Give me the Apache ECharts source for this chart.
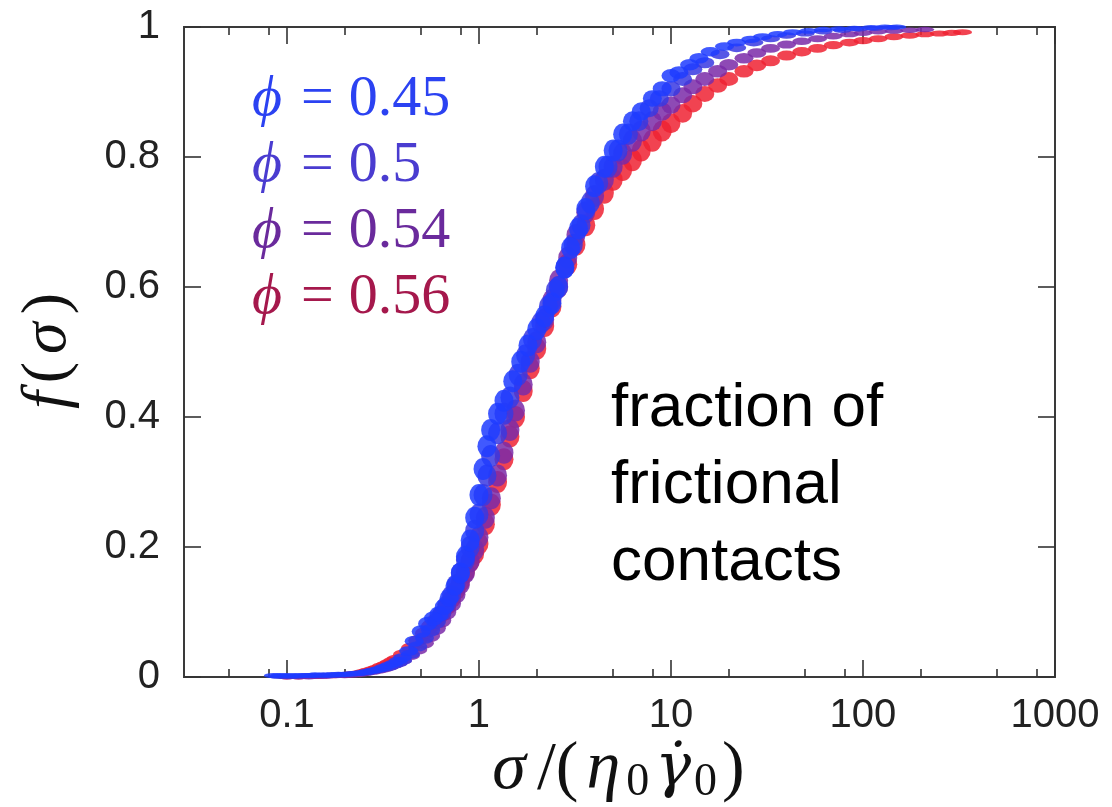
<!DOCTYPE html>
<html><head><meta charset="utf-8">
<script src="https://cdn.jsdelivr.net/npm/echarts@6/dist/echarts.min.js"></script>
<style>html,body{margin:0;padding:0;background:#fff}#c{width:1112px;height:807px}</style>
</head><body><div id="c"></div>
<script>
// ---- data ----
const seriesNames = ['0.45', '0.5', '0.54', '0.56'];
const phi045 = [[0.085,0.002],[0.092,0.002],[0.1,0.002],[0.11,0.002],[0.12,0.002],[0.13,0.002],[0.14,0.003],[0.155,0.003],[0.17,0.003],[0.185,0.004],[0.2,0.004],[0.22,0.005],[0.24,0.006],[0.26,0.008],[0.28,0.01],[0.3,0.012],[0.32,0.015],[0.34,0.018],[0.36,0.021],[0.38,0.025],[0.4,0.03],[0.43,0.04],[0.46,0.055],[0.5,0.07],[0.54,0.082],[0.58,0.09],[0.62,0.097],[0.66,0.108],[0.7,0.122],[0.75,0.14],[0.8,0.16],[0.85,0.185],[0.9,0.21],[0.95,0.245],[1.0,0.28],[1.05,0.32],[1.1,0.355],[1.15,0.38],[1.25,0.405],[1.35,0.425],[1.5,0.455],[1.65,0.485],[1.8,0.51],[2.0,0.535],[2.2,0.555],[2.4,0.575],[2.6,0.6],[2.8,0.63],[3.0,0.66],[3.3,0.69],[3.6,0.72],[4.0,0.755],[4.5,0.785],[5.0,0.81],[5.6,0.835],[6.3,0.855],[7.0,0.87],[8.0,0.89],[9.0,0.905],[10,0.925],[11,0.93],[12.5,0.942],[14,0.952],[16,0.962],[19,0.97],[22,0.976],[26,0.981],[30,0.985],[36,0.989],[43,0.992],[52,0.994],[62,0.996],[75,0.997],[90,0.998],[110,0.999],[130,1.0],[150,1.0]];
const phi050 = [[0.09,0.001],[0.1,0.001],[0.11,0.001],[0.125,0.002],[0.14,0.002],[0.155,0.002],[0.17,0.003],[0.185,0.003],[0.2,0.004],[0.22,0.005],[0.24,0.006],[0.26,0.007],[0.28,0.009],[0.3,0.011],[0.32,0.013],[0.34,0.015],[0.36,0.018],[0.38,0.021],[0.4,0.025],[0.44,0.035],[0.48,0.047],[0.52,0.06],[0.56,0.072],[0.6,0.085],[0.64,0.098],[0.68,0.112],[0.72,0.127],[0.76,0.143],[0.8,0.16],[0.85,0.18],[0.9,0.2],[0.95,0.225],[1.0,0.25],[1.05,0.28],[1.1,0.31],[1.15,0.34],[1.25,0.375],[1.35,0.405],[1.45,0.43],[1.6,0.465],[1.75,0.495],[1.9,0.52],[2.1,0.545],[2.3,0.57],[2.5,0.595],[2.8,0.63],[3.1,0.665],[3.4,0.695],[3.8,0.73],[4.2,0.76],[4.7,0.785],[5.3,0.81],[6.0,0.835],[6.8,0.855],[7.7,0.875],[8.7,0.89],[10,0.905],[11.5,0.92],[13,0.935],[15,0.945],[18,0.958],[22,0.968],[27,0.976],[33,0.982],[40,0.987],[50,0.99],[62,0.993],[78,0.995],[95,0.997],[115,0.998],[140,0.999]];
const phi054 = [[0.1,0.0],[0.115,0.0],[0.13,0.0],[0.145,0.001],[0.16,0.001],[0.18,0.002],[0.2,0.002],[0.22,0.003],[0.24,0.004],[0.26,0.006],[0.28,0.008],[0.3,0.01],[0.32,0.012],[0.34,0.015],[0.36,0.018],[0.38,0.021],[0.4,0.025],[0.44,0.033],[0.48,0.042],[0.52,0.052],[0.56,0.063],[0.6,0.075],[0.64,0.087],[0.68,0.1],[0.72,0.113],[0.76,0.127],[0.8,0.142],[0.85,0.16],[0.9,0.178],[0.95,0.196],[1.0,0.215],[1.08,0.245],[1.16,0.275],[1.25,0.31],[1.35,0.345],[1.45,0.38],[1.55,0.41],[1.7,0.45],[1.85,0.485],[2.0,0.515],[2.2,0.55],[2.4,0.58],[2.6,0.61],[2.9,0.645],[3.2,0.68],[3.6,0.715],[4.0,0.74],[4.5,0.765],[5.0,0.785],[5.6,0.805],[6.3,0.825],[7.0,0.84],[8.0,0.855],[9.0,0.87],[10,0.88],[11.5,0.895],[13,0.908],[15,0.92],[17.5,0.932],[20,0.942],[24,0.952],[28,0.96],[33,0.967],[40,0.973],[48,0.978],[58,0.982],[70,0.986],[85,0.989],[100,0.991],[120,0.993],[145,0.994],[175,0.995],[210,0.996]];
const phi056 = [[0.1,0.0],[0.115,0.0],[0.13,0.001],[0.145,0.001],[0.16,0.002],[0.175,0.002],[0.19,0.003],[0.205,0.004],[0.22,0.005],[0.235,0.006],[0.25,0.008],[0.265,0.01],[0.28,0.012],[0.295,0.014],[0.31,0.017],[0.325,0.019],[0.34,0.022],[0.355,0.025],[0.37,0.028],[0.4,0.035],[0.44,0.045],[0.48,0.056],[0.52,0.067],[0.56,0.078],[0.6,0.087],[0.64,0.097],[0.68,0.108],[0.72,0.12],[0.76,0.133],[0.8,0.146],[0.85,0.162],[0.9,0.178],[0.95,0.19],[1.0,0.205],[1.08,0.235],[1.16,0.265],[1.25,0.3],[1.35,0.335],[1.45,0.37],[1.55,0.4],[1.7,0.44],[1.85,0.475],[2.0,0.505],[2.2,0.54],[2.4,0.57],[2.6,0.6],[2.9,0.635],[3.2,0.665],[3.6,0.695],[4.0,0.72],[4.5,0.745],[5.0,0.765],[5.6,0.78],[6.3,0.795],[7.0,0.81],[8.0,0.825],[9.0,0.84],[10,0.852],[11.5,0.867],[13,0.882],[15,0.897],[17.5,0.91],[20,0.92],[24,0.932],[28,0.941],[33,0.948],[40,0.956],[48,0.962],[58,0.967],[70,0.972],[85,0.976],[100,0.979],[120,0.982],[145,0.985],[175,0.987],[210,0.989],[250,0.99],[290,0.991],[330,0.992]];
const xMajorTicks = [0.1, 1, 10, 100, 1000];
const xMinorTicks = [0.05, 0.08, 0.2, 0.5, 0.8, 2, 5, 8, 20, 50, 80, 200, 500, 800];
const yTickStep = 0.2;

// ---- styling ----
const pointColors = { '0.45': '#1e3cff', '0.5': '#3838e2', '0.54': '#7a2aa8', '0.56': '#ee2232' };
const textColors  = { '0.45': '#2b42f2', '0.5': '#4a3cd0', '0.54': '#6a2a9c', '0.56': '#a5184c' };
const seriesData = { '0.45': phi045, '0.5': phi050, '0.54': phi054, '0.56': phi056 };
const X_MIN = 0.0291, X_MAX = 1000;
const sans = 'Liberation Sans', serif = 'Liberation Serif';
const tickColor = '#333';

function xAxisDef(pos, ticks, len, labels) {
  return {
    type: 'log', logBase: 10, min: X_MIN, max: X_MAX, position: pos,
    axisLine: { show: false }, splitLine: { show: false },
    axisTick: { show: true, inside: true, length: len, customValues: ticks, lineStyle: { color: tickColor, width: 1.6 } },
    axisLabel: labels ? { show: true, customValues: ticks, margin: 19, color: '#222', fontFamily: sans, fontSize: 40, formatter: v => String(v) } : { show: false }
  };
}
function yAxisDef(pos, labels) {
  return {
    type: 'value', min: 0, max: 1, interval: yTickStep, position: pos,
    axisLine: { show: false }, splitLine: { show: false },
    axisTick: { show: true, inside: true, length: 17, lineStyle: { color: tickColor, width: 1.6 } },
    axisLabel: labels ? { show: true, margin: 24, color: '#222', fontFamily: sans, fontSize: 40 } : { show: false }
  };
}

const xMain = xAxisDef('bottom', xMajorTicks, 17, true);
xMain.name = '{i|σ}{p|/(}{i|η}{s|0}{g|γ̇}{s|0}{p|)}';
xMain.nameLocation = 'middle';
xMain.nameGap = 57;
xMain.nameMoveOverlap = false;
xMain.nameTextStyle = { fontFamily: serif, fontSize: 68, color: '#111', lineHeight: 72,
  rich: { i: { fontFamily: serif, fontStyle: 'italic', fontSize: 68, lineHeight: 72, padding: [0, 6, 0, 3] },
          g: { fontFamily: 'DejaVu Serif', fontStyle: 'italic', fontSize: 60, lineHeight: 72, padding: [0, 3, 0, 6] },
          p: { fontFamily: serif, fontSize: 68, lineHeight: 72, padding: [0, 5, 0, 5] },
          s: { fontFamily: serif, fontSize: 46, lineHeight: 36, verticalAlign: 'bottom' } } };

const yMain = yAxisDef('left', true);
yMain.name = '{i|f}{p|(}{i|σ}{p|)}';
yMain.nameLocation = 'middle';
yMain.nameRotate = 90;
yMain.nameGap = 104;
yMain.nameMoveOverlap = false;
yMain.nameTextStyle = { fontFamily: serif, fontSize: 64, color: '#111',
  rich: { i: { fontFamily: serif, fontStyle: 'italic', fontSize: 64, padding: [0, 5, 0, 5] },
          p: { fontFamily: serif, fontSize: 64, padding: [0, 3, 0, 3] } } };

const drawOrder = ['0.56', '0.54', '0.5', '0.45'];
const series = drawOrder.map(k => ({
  name: 'ϕ = ' + k,
  type: 'scatter',
  xAxisIndex: 0, yAxisIndex: 0,
  data: seriesData[k],
  symbol: 'circle',
  symbolSize: v => [19, 5 + 17 * Math.min(1, 7 * v[1] * (1 - v[1]))],
  itemStyle: { color: pointColors[k], opacity: 0.85 },
  silent: true
}));

const chart = echarts.init(document.getElementById('c'), null, { renderer: 'canvas' });
chart.setOption({
  animation: false,
  backgroundColor: '#fff',
  grid: { left: 184, right: 57, top: 27, bottom: 130, outerBoundsMode: 'none', containLabel: false,
          show: true, borderColor: '#3a3a3a', borderWidth: 2, backgroundColor: 'transparent' },
  xAxis: [xMain, xAxisDef('bottom', xMinorTicks, 8, false), xAxisDef('top', xMajorTicks, 17, false), xAxisDef('top', xMinorTicks, 8, false)],
  yAxis: [yMain, yAxisDef('right', false)],
  legend: {
    orient: 'vertical', left: 242, top: 66, icon: 'none', itemWidth: 0, itemHeight: 0, itemGap: 8,
    selectedMode: false,
    data: seriesNames.map(k => ({ name: 'ϕ = ' + k, textStyle: { color: textColors[k] } })),
    formatter: n => '{i|ϕ}{e|=}' + n.slice(4),
    textStyle: { fontFamily: serif, fontSize: 58,
      rich: { i: { fontFamily: serif, fontStyle: 'italic', fontSize: 58 },
              e: { fontFamily: serif, fontSize: 58, padding: [0, 15, 0, 19] } } }
  },
  graphic: [{
    type: 'text', left: 611, top: 370, silent: true,
    style: { text: 'fraction of\nfrictional\ncontacts', fontFamily: sans, fontSize: 62, lineHeight: 77, fill: '#000' }
  }],
  series: series
});
</script></body></html>
